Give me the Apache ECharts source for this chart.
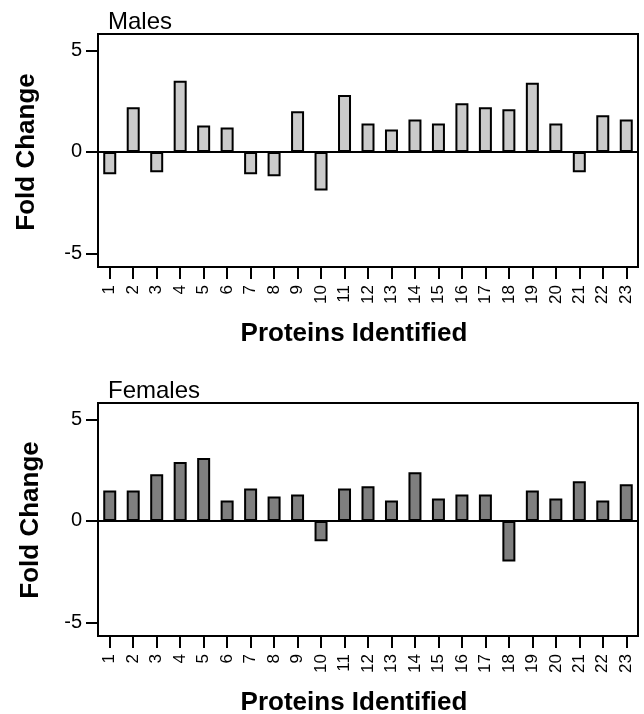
<!DOCTYPE html>
<html>

<head>
	<meta charset="UTF-8">
	<title>Fold Change</title>
	<style type="text/css">
		body {
			margin: 0;
			background: #fff;
		}

		#chart {
			width: 644px;
			height: 714px;
		}
	</style>
</head>

<body>
	<div id="chart"></div>
	<script type="text/javascript" src="https://cdn.jsdelivr.net/npm/echarts@6/dist/echarts.min.js"></script>
	<script>
		// protein numbers on the x axis
		var proteins = ['1', '2', '3', '4', '5', '6', '7', '8', '9', '10', '11', '12',
			'13', '14', '15', '16', '17', '18', '19', '20', '21', '22', '23'];
		// fold change, males
		var malesFold = [-1.1, 2.2, -1.0, 3.5, 1.3, 1.2, -1.1, -1.2, 2.0, -1.9, 2.8, 1.4,
			1.1, 1.6, 1.4, 2.4, 2.2, 2.1, 3.4, 1.4, -1.0, 1.8, 1.6];
		// fold change, females
		var femalesFold = [1.5, 1.5, 2.3, 2.9, 3.1, 1.0, 1.6, 1.2, 1.3, -1.0, 1.6, 1.7,
			1.0, 2.4, 1.1, 1.3, 1.3, -2.0, 1.5, 1.1, 1.95, 1.0, 1.8];
		// y axis tick labels
		var yTicks = [-5, 0, 5];

		var font = 'Liberation Sans, Arial, Helvetica, sans-serif';
		var chart = echarts.init(document.getElementById('chart'));

		function makeX(idx) {
			return {
				type: 'category',
				gridIndex: idx,
				data: proteins,
				axisLine: { show: false, onZero: false },
				axisTick: { show: true, length: 12, alignWithLabel: true, lineStyle: { color: '#000', width: 2 } },
				axisLabel: { interval: 0, rotate: 90, margin: 18, fontSize: 17, color: '#000', fontFamily: font },
				splitLine: { show: false }
			};
		}

		function makeY(idx) {
			return {
				type: 'value',
				gridIndex: idx,
				min: -5.66,
				max: 5.8,
				axisLine: { show: false },
				axisTick: { show: true, length: 12, customValues: yTicks, lineStyle: { color: '#000', width: 2 } },
				axisLabel: { customValues: yTicks, margin: 16, fontSize: 20, color: '#000', fontFamily: font },
				splitLine: { show: false }
			};
		}

		function makeBar(idx, data, fill) {
			return {
				type: 'bar',
				xAxisIndex: idx,
				yAxisIndex: idx,
				data: data,
				barWidth: 13,
				itemStyle: { color: fill, borderColor: '#000', borderWidth: 2 },
				markLine: {
					silent: true,
					symbol: 'none',
					label: { show: false },
					lineStyle: { color: '#000', width: 2, type: 'solid' },
					data: [{ yAxis: 0 }]
				}
			};
		}

		var option = {
			backgroundColor: '#fff',
			animation: false,
			title: [
				{ text: 'Males', left: 103, top: 5, textStyle: { fontSize: 24, fontWeight: 'normal', color: '#000', fontFamily: font } },
				{ text: 'Females', left: 103, top: 374, textStyle: { fontSize: 24, fontWeight: 'normal', color: '#000', fontFamily: font } }
			],
			grid: [
				{ left: 98, top: 34, width: 540, height: 233, show: true, borderColor: '#000', borderWidth: 2 },
				{ left: 98, top: 403, width: 540, height: 233, show: true, borderColor: '#000', borderWidth: 2 }
			],
			xAxis: [makeX(0), makeX(1)],
			yAxis: [makeY(0), makeY(1)],
			series: [
				makeBar(0, malesFold, '#cbcbcb'),
				makeBar(1, femalesFold, '#7f7f7f')
			],
			graphic: [
				{ type: 'text', x: 354, y: 334, style: { text: 'Proteins Identified', font: 'bold 26px ' + font, fill: '#000', textAlign: 'center', textVerticalAlign: 'middle' } },
				{ type: 'text', x: 354, y: 703, style: { text: 'Proteins Identified', font: 'bold 26px ' + font, fill: '#000', textAlign: 'center', textVerticalAlign: 'middle' } },
				{ type: 'text', x: 27, y: 152, rotation: Math.PI / 2, style: { text: 'Fold Change', font: 'bold 26px ' + font, fill: '#000', textAlign: 'center', textVerticalAlign: 'middle' } },
				{ type: 'text', x: 31, y: 520, rotation: Math.PI / 2, style: { text: 'Fold Change', font: 'bold 26px ' + font, fill: '#000', textAlign: 'center', textVerticalAlign: 'middle' } }
			]
		};
		chart.setOption(option);
	</script>
</body>

</html>
